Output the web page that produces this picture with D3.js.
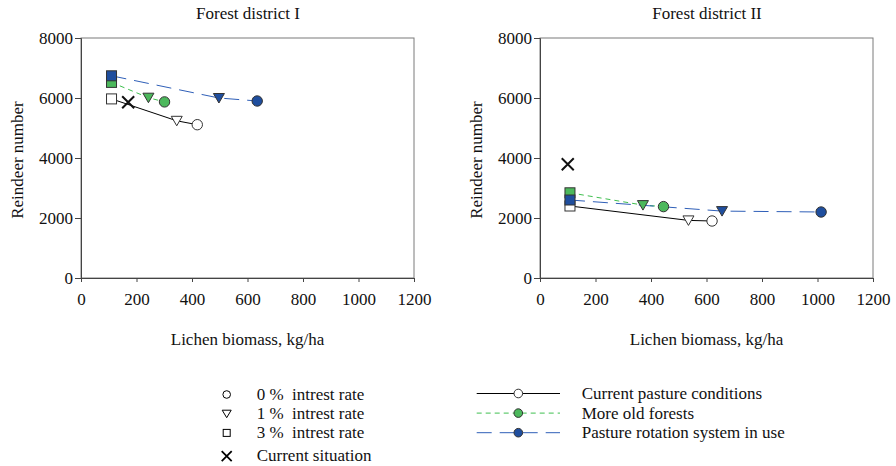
<!DOCTYPE html>
<html lang="en">
<head>
    <meta charset="UTF-8">
    <title>Reindeer number vs lichen biomass</title>
    <script src="https://cdn.jsdelivr.net/npm/d3@7"></script>
    <style>
        body {
            margin: 0;
            padding: 0;
            background: #ffffff;
        }
        svg text {
            font-family: "Liberation Serif", "Times New Roman", serif;
            fill: #111;
        }
    </style>
</head>
<body>
    <svg id="chart" width="896" height="466"></svg>

    <script>
        // order of points on each line: 3 %, 1 %, 0 % interest rate
        const rates = ["3 %", "1 %", "0 %"];
        const rateShapes = ["square", "triangle", "circle"];

        const districts = ["Forest district I", "Forest district II"];

        // district I
        const d1CurrentX = [110, 345, 419];
        const d1CurrentY = [5970, 5240, 5110];
        const d1OldX = [110, 243, 301];
        const d1OldY = [6520, 6010, 5870];
        const d1RotX = [110, 497, 635];
        const d1RotY = [6740, 6000, 5900];
        const d1Situation = [170, 5860];

        // district II
        const d2CurrentX = [108, 535, 620];
        const d2CurrentY = [2400, 1920, 1900];
        const d2OldX = [108, 371, 445];
        const d2OldY = [2840, 2430, 2380];
        const d2RotX = [108, 656, 1013];
        const d2RotY = [2600, 2230, 2200];
        const d2Situation = [100, 3790];

        const xTicks = [0, 200, 400, 600, 800, 1000, 1200];
        const yTicks = [0, 2000, 4000, 6000, 8000];

        const seriesNames = ["Current pasture conditions", "More old forests", "Pasture rotation system in use"];
        const seriesFill = ["#ffffff", "#4cb85c", "#1f4e9e"];
        const seriesLine = ["#000000", "#3fbf4f", "#2f5fb8"];
        const seriesDash = [null, "5,4", "15,8"];

        const panels = [
            { series: [[d1CurrentX, d1CurrentY], [d1OldX, d1OldY], [d1RotX, d1RotY]], situation: d1Situation, left: 81 },
            { series: [[d2CurrentX, d2CurrentY], [d2OldX, d2OldY], [d2RotX, d2RotY]], situation: d2Situation, left: 540 }
        ];

        const svg = d3.select("#chart");
        const plotW = 333, plotTop = 38, plotBottom = 278;
        const fs = "17px";

        function drawMarker(g, shape, x, y, fill, stroke) {
            if (shape === "circle") {
                g.append("circle").attr("cx", x).attr("cy", y).attr("r", 5.2)
                    .attr("fill", fill).attr("stroke", stroke).attr("stroke-width", 1);
            } else if (shape === "square") {
                g.append("rect").attr("x", x - 5).attr("y", y - 5).attr("width", 10).attr("height", 10)
                    .attr("fill", fill).attr("stroke", stroke).attr("stroke-width", 1);
            } else if (shape === "triangle") {
                g.append("path").attr("d", `M${x - 5.5},${y - 4.5}L${x + 5.5},${y - 4.5}L${x},${y + 5}Z`)
                    .attr("fill", fill).attr("stroke", stroke).attr("stroke-width", 1);
            } else if (shape === "cross") {
                g.append("path").attr("d", `M${x - 6},${y - 6}L${x + 6},${y + 6}M${x - 6},${y + 6}L${x + 6},${y - 6}`)
                    .attr("stroke", "#111").attr("stroke-width", 2).attr("fill", "none");
            }
        }

        panels.forEach((p, i) => {
            const x = d3.scaleLinear().domain([0, 1200]).range([p.left, p.left + plotW]);
            const y = d3.scaleLinear().domain([0, 8000]).range([plotBottom, plotTop]);
            const g = svg.append("g");

            // plot box
            g.append("rect").attr("x", p.left).attr("y", plotTop).attr("width", plotW).attr("height", plotBottom - plotTop)
                .attr("fill", "none").attr("stroke", "#7a7a7a").attr("stroke-width", 1);

            const xAxis = g.append("g").attr("transform", `translate(0,${plotBottom})`)
                .call(d3.axisBottom(x).tickValues(xTicks).tickFormat(d3.format("d")).tickSize(4).tickPadding(11));
            const yAxis = g.append("g").attr("transform", `translate(${p.left},0)`)
                .call(d3.axisLeft(y).tickValues(yTicks).tickFormat(d3.format("d")).tickSize(6).tickPadding(2));
            [xAxis, yAxis].forEach(a => {
                a.attr("font-family", null).attr("font-size", null);
                a.select(".domain").attr("stroke", "#444");
                a.selectAll(".tick line").attr("stroke", "#444");
                a.selectAll(".tick text").style("font-size", fs).attr("fill", "#111");
            });

            g.append("text").attr("x", p.left + 167).attr("y", 19)
                .attr("text-anchor", "middle").style("font-size", fs).text(districts[i]);
            g.append("text").attr("x", p.left + 166.5).attr("y", 345)
                .attr("text-anchor", "middle").style("font-size", fs).text("Lichen biomass, kg/ha");
            g.append("text").attr("transform", `translate(${p.left - 58.5},${(plotTop + plotBottom) / 2 + 2}) rotate(-90)`)
                .attr("text-anchor", "middle").style("font-size", fs).text("Reindeer number");

            const line = d3.line().x(d => x(d[0])).y(d => y(d[1]));

            p.series.forEach((s, k) => {
                const pts = s[0].map((v, j) => [v, s[1][j]]);
                g.append("path").datum(pts).attr("d", line)
                    .attr("fill", "none").attr("stroke", seriesLine[k]).attr("stroke-width", 1)
                    .attr("stroke-dasharray", seriesDash[k]);
            });
            p.series.forEach((s, k) => {
                s[0].forEach((v, j) => {
                    drawMarker(g, rateShapes[j], x(v), y(s[1][j]), seriesFill[k], "#333");
                });
            });
            drawMarker(g, "cross", x(p.situation[0]), y(p.situation[1]));
        });

        // legend: interest rates
        const legRateLabels = ["0 %  intrest rate", "1 %  intrest rate", "3 %  intrest rate", "Current situation"];
        const legRateShapes = ["circle", "triangle", "square", "cross"];
        const legL = svg.append("g");
        const mx = 226.7;
        legRateLabels.forEach((t, j) => {
            const yy = 394.5 + j * 19.2 + (j === 3 ? 4 : 0);
            const shape = legRateShapes[j];
            if (shape === "circle") {
                legL.append("circle").attr("cx", mx).attr("cy", yy).attr("r", 3.8)
                    .attr("fill", "#fff").attr("stroke", "#000");
            } else if (shape === "triangle") {
                legL.append("path").attr("d", `M${mx - 4.5},${yy - 3.5}L${mx + 4.5},${yy - 3.5}L${mx},${yy + 4}Z`)
                    .attr("fill", "#fff").attr("stroke", "#000");
            } else if (shape === "square") {
                legL.append("rect").attr("x", mx - 3.5).attr("y", yy - 3.5).attr("width", 7).attr("height", 7)
                    .attr("fill", "#fff").attr("stroke", "#000");
            } else {
                legL.append("path").attr("d", `M${mx - 5},${yy - 5}L${mx + 5},${yy + 5}M${mx - 5},${yy + 5}L${mx + 5},${yy - 5}`)
                    .attr("stroke", "#000").attr("stroke-width", 1.8);
            }
            legL.append("text").attr("x", 256.7).attr("y", yy + 5)
                .style("font-size", fs).style("white-space", "pre").text(t);
        });

        // legend: series
        const legS = svg.append("g");
        seriesNames.forEach((t, k) => {
            const yy = 393.5 + k * 19.6;
            legS.append("line").attr("x1", 476.7).attr("x2", 560).attr("y1", yy).attr("y2", yy)
                .attr("stroke", seriesLine[k]).attr("stroke-dasharray", seriesDash[k]);
            legS.append("circle").attr("cx", 518.3).attr("cy", yy).attr("r", 4.3)
                .attr("fill", seriesFill[k]).attr("stroke", "#333");
            legS.append("text").attr("x", 581.7).attr("y", yy + 5.5)
                .style("font-size", fs).text(t);
        });
    </script>
</body>
</html>
